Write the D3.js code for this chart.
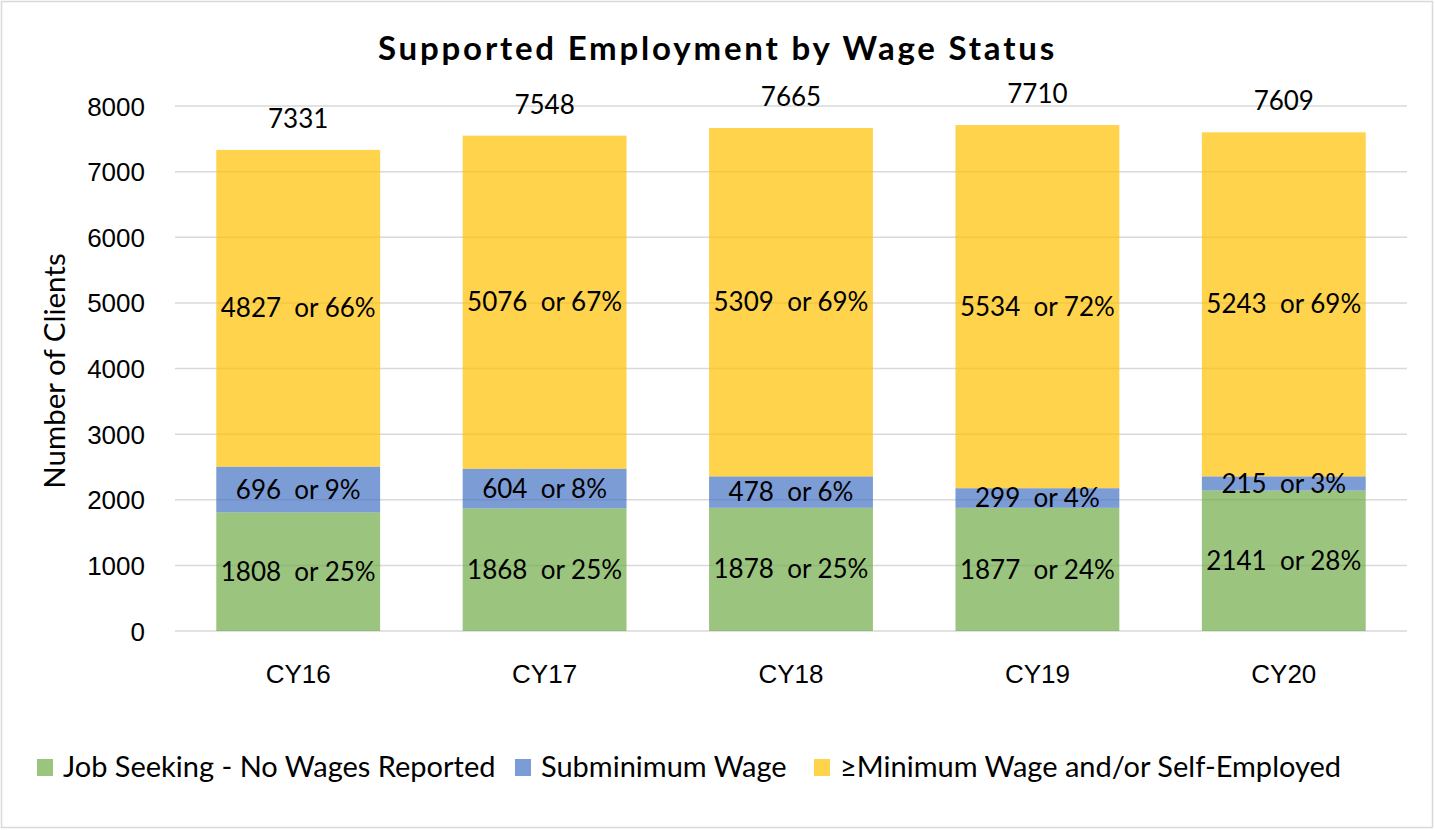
<!DOCTYPE html>
<html>
<head>
<meta charset="utf-8">
<script src="https://cdn.jsdelivr.net/npm/d3@7"></script>
<style>
  body { margin: 0; background: #fff; }
  svg { display: block; font-family: Lato, "Open Sans", sans-serif; }
  .grid line { stroke: #d9d9d9; stroke-width: 1.5; }
  .axis text { font-size: 26px; fill: #000; }
</style>
</head>
<body>
<div id="chart"></div>
<script>
// categories and series
var years = ['CY16', 'CY17', 'CY18', 'CY19', 'CY20'];
var jobSeeking = [1808, 1868, 1878, 1877, 2141];
var subminimum = [696, 604, 478, 299, 215];
var minimumPlus = [4827, 5076, 5309, 5534, 5243];
var totals = [7331, 7548, 7665, 7710, 7609];
var jobSeekingPct = [25, 25, 25, 24, 28];
var subminimumPct = [9, 8, 6, 4, 3];
var minimumPlusPct = [66, 67, 69, 72, 69];
var yTicks = [0, 1000, 2000, 3000, 4000, 5000, 6000, 7000, 8000];
var seriesNames = ['Job Seeking - No Wages Reported', 'Subminimum Wage', '\u2265Minimum Wage and/or Self-Employed'];
var seriesColors = ['#70ad47', '#4472c4', '#ffc000'];

var width = 1435;
var height = 830;
var margin = { top: 106, right: 28, bottom: 199, left: 175 };

var rows = years.map(function (y, i) {
    return { year: y, a: jobSeeking[i], b: subminimum[i], c: minimumPlus[i], total: totals[i],
             pa: jobSeekingPct[i], pb: subminimumPct[i], pc: minimumPlusPct[i] };
});

var svg = d3.select('#chart').append('svg')
    .attr('width', width)
    .attr('height', height);

// outer border
svg.append('rect')
    .attr('x', 1.5).attr('y', 1.5)
    .attr('width', width - 4).attr('height', height - 4)
    .attr('fill', '#fff')
    .attr('stroke', '#d9d9d9')
    .attr('stroke-width', 1.5);

var plotW = width - margin.left - margin.right;
var plotH = height - margin.top - margin.bottom;

var g = svg.append('g')
    .attr('transform', 'translate(' + margin.left + ',' + margin.top + ')');

var x = d3.scaleBand()
    .domain(years)
    .range([0, plotW])
    .paddingInner(0.335)
    .paddingOuter(0.1675);

var y = d3.scaleLinear()
    .domain([0, 8000])
    .range([plotH, 0]);

// grid lines
g.append('g')
    .attr('class', 'grid')
    .selectAll('line')
    .data(yTicks)
    .enter().append('line')
    .attr('x1', 0)
    .attr('x2', plotW)
    .attr('y1', function (d) { return y(d); })
    .attr('y2', function (d) { return y(d); });

// y axis (labels only)
var yAxis = g.append('g')
    .attr('class', 'axis y')
    .call(d3.axisLeft(y).tickValues(yTicks).tickSize(0).tickPadding(30).tickFormat(d3.format('d')));
yAxis.select('.domain').remove();
yAxis.selectAll('text').attr('dy', '0.35em');

// x axis (labels only)
var xAxis = g.append('g')
    .attr('class', 'axis x')
    .attr('transform', 'translate(0,' + plotH + ')')
    .call(d3.axisBottom(x).tickSize(0).tickPadding(34));
xAxis.select('.domain').remove();

// stacked series
var stack = d3.stack().keys(['a', 'b', 'c']);
var layers = stack(rows);
var pctKey = { a: 'pa', b: 'pb', c: 'pc' };

var layerG = g.selectAll('.layer')
    .data(layers)
    .enter().append('g')
    .attr('class', 'layer')
    .attr('fill', function (d, i) { return seriesColors[i]; });

layerG.selectAll('rect')
    .data(function (d) { return d; })
    .enter().append('rect')
    .attr('x', function (d) { return x(d.data.year); })
    .attr('width', x.bandwidth())
    .attr('y', function (d) { return y(d[1]); })
    .attr('height', function (d) { return y(d[0]) - y(d[1]); })
    .attr('fill-opacity', 0.7);

// segment labels
layers.forEach(function (layer) {
    g.append('g').selectAll('text')
        .data(layer)
        .enter().append('text')
        .attr('x', function (d) { return x(d.data.year) + x.bandwidth() / 2; })
        .attr('y', function (d) { return y((d[0] + d[1]) / 2); })
        .attr('dy', '0.35em')
        .attr('text-anchor', 'middle')
        .attr('font-size', 26)
        .style('white-space', 'pre')
        .text(function (d) { return (d[1] - d[0]) + '  or ' + d.data[pctKey[layer.key]] + '%'; });
});

// totals above the bars
g.append('g').selectAll('text')
    .data(rows)
    .enter().append('text')
    .attr('x', function (d) { return x(d.year) + x.bandwidth() / 2; })
    .attr('y', function (d) { return y(d.a + d.b + d.c) - 31; })
    .attr('dy', '0.35em')
    .attr('text-anchor', 'middle')
    .attr('font-size', 26)
    .text(function (d) { return d.total; });

// title
svg.append('text')
    .attr('x', width / 2)
    .attr('y', 48)
    .attr('dy', '0.35em')
    .attr('text-anchor', 'middle')
    .attr('font-size', 33)
    .attr('font-weight', 'bold')
    .attr('letter-spacing', 2.8)
    .text('Supported Employment by Wage Status');

// y axis title
svg.append('text')
    .attr('transform', 'translate(55,371) rotate(-90)')
    .attr('dy', '0.35em')
    .attr('text-anchor', 'middle')
    .attr('font-size', 29.5)
    .text('Number of Clients');

// legend
var legendX = [37, 515, 814];
var legend = svg.append('g').selectAll('g')
    .data(seriesNames)
    .enter().append('g')
    .attr('transform', function (d, i) { return 'translate(' + legendX[i] + ',767)'; });
legend.append('rect')
    .attr('x', 0).attr('y', -8)
    .attr('width', 16).attr('height', 17)
    .attr('fill', function (d, i) { return seriesColors[i]; })
    .attr('fill-opacity', 0.7);
legend.append('text')
    .attr('x', 26)
    .attr('dy', '0.35em')
    .attr('font-size', 29)
    .text(function (d) { return d; });
</script>
</body>
</html>
